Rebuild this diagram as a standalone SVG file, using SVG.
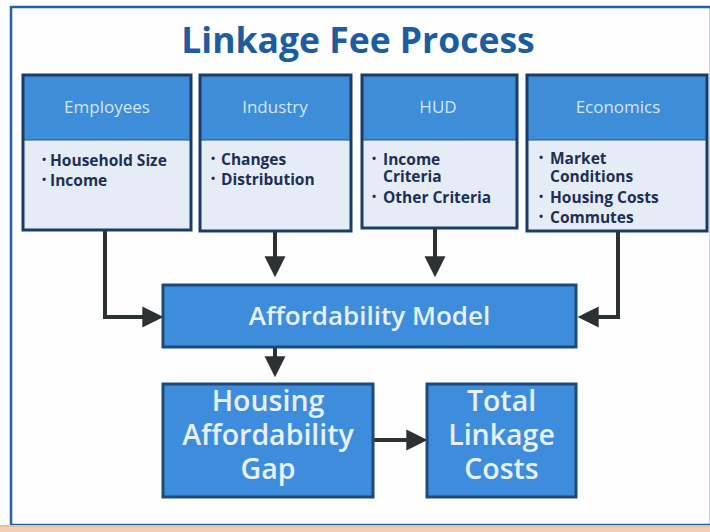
<svg xmlns="http://www.w3.org/2000/svg" width="710" height="532" viewBox="0 0 710 532">
  <style>
    .frame { fill: #fefefe; stroke: #2362a9; stroke-width: 2.5; }
    .title { font-family: "Open Sans", "Liberation Sans", sans-serif; font-weight: 700; font-size: 35.5px; fill: #1d5c9e; text-anchor: middle; }
    .hdr { fill: #3e8dd8; }
    .bodybox { fill: #e5ecf5; }
    .edge { fill: none; stroke: #1b3c66; stroke-width: 3; }
    .sep { stroke: #2a5b8f; stroke-width: 1; }
    .htext { font-family: "Open Sans", "Liberation Sans", sans-serif; font-size: 17px; fill: #d3e6f8; text-anchor: middle; }
    .item { font-family: "Open Sans", "Liberation Sans", sans-serif; font-weight: 700; font-size: 15.5px; fill: #1c2f55; }
    .bul { font-family: "Open Sans", "Liberation Sans", sans-serif; font-weight: 700; font-size: 11px; fill: #1c2f55; }
    .stage { fill: #3d8ddc; stroke: #1c4a7c; stroke-width: 3; }
    .big { font-family: "Open Sans", "Liberation Sans", sans-serif; font-weight: 600; fill: #e8f1fb; text-anchor: middle; }
    .conn { fill: none; stroke: #2c3234; stroke-width: 4; marker-end: url(#head); }
  </style>
  <defs>
    <marker id="head" viewBox="0 0 20 20" refX="14" refY="10" markerWidth="21" markerHeight="22" markerUnits="userSpaceOnUse" orient="auto">
      <path d="M0,0 L20,10 L0,20 Z" fill="#2c3234"/>
    </marker>
  </defs>

  <!-- page frame and bottom band -->
  <rect class="frame" x="11" y="7" width="700" height="518"/>
  <rect x="0" y="525" width="710" height="2" fill="#e6c58c"/>
  <rect x="0" y="527" width="710" height="5" fill="#f4cdb9"/>

  <text class="title" x="358" y="53">Linkage Fee Process</text>

  <!-- connectors -->
  <g id="connectors">
    <path class="conn" d="M105,230 V317 H157"/>
    <path class="conn" d="M275,231 V271"/>
    <path class="conn" d="M435,229 V271"/>
    <path class="conn" d="M618,231 V317 H584"/>
    <path class="conn" d="M275,347 V371"/>
    <path class="conn" d="M373,440 H421"/>
  </g>

  <!-- input boxes -->
  <g id="employees">
    <rect class="hdr" x="23" y="75" width="168" height="65"/>
    <rect class="bodybox" x="23" y="140" width="168" height="90"/>
    <line class="sep" x1="23" y1="140" x2="191" y2="140"/>
    <rect class="edge" x="23" y="75" width="168" height="155"/>
    <text class="htext" x="107" y="113">Employees</text>
    <text class="bul" x="42" y="163">•</text>
    <text class="item" x="50" y="166">Household Size</text>
    <text class="bul" x="42" y="183">•</text>
    <text class="item" x="50" y="186">Income</text>
  </g>

  <g id="industry">
    <rect class="hdr" x="200" y="75" width="151" height="65"/>
    <rect class="bodybox" x="200" y="140" width="151" height="91"/>
    <line class="sep" x1="200" y1="140" x2="351" y2="140"/>
    <rect class="edge" x="200" y="75" width="151" height="156"/>
    <text class="htext" x="275" y="113">Industry</text>
    <text class="bul" x="211" y="162">•</text>
    <text class="item" x="221" y="165">Changes</text>
    <text class="bul" x="211" y="182">•</text>
    <text class="item" x="221" y="185">Distribution</text>
  </g>

  <g id="hud">
    <rect class="hdr" x="362" y="75" width="155" height="65"/>
    <rect class="bodybox" x="362" y="140" width="155" height="88"/>
    <line class="sep" x1="362" y1="140" x2="517" y2="140"/>
    <rect class="edge" x="362" y="75" width="155" height="153"/>
    <text class="htext" x="438" y="113">HUD</text>
    <text class="bul" x="372" y="162">•</text>
    <text class="item" x="383" y="165">Income<tspan x="383" dy="17">Criteria</tspan></text>
    <text class="bul" x="372" y="200">•</text>
    <text class="item" x="383" y="203">Other Criteria</text>
  </g>

  <g id="economics">
    <rect class="hdr" x="527" y="75" width="180" height="65"/>
    <rect class="bodybox" x="527" y="140" width="180" height="91"/>
    <line class="sep" x1="527" y1="140" x2="707" y2="140"/>
    <rect class="edge" x="527" y="75" width="180" height="156"/>
    <text class="htext" x="618" y="113">Economics</text>
    <text class="bul" x="539" y="161">•</text>
    <text class="item" x="550" y="164">Market<tspan x="550" dy="18">Conditions</tspan></text>
    <text class="bul" x="539" y="200">•</text>
    <text class="item" x="550" y="203">Housing Costs</text>
    <text class="bul" x="539" y="220">•</text>
    <text class="item" x="550" y="223">Commutes</text>
  </g>

  <!-- process stages -->
  <g id="affordability-model">
    <rect class="stage" x="163" y="285" width="413" height="62"/>
    <text class="big" x="369.5" y="325" font-size="26">Affordability Model</text>
  </g>

  <g id="affordability-gap">
    <rect class="stage" x="163" y="384" width="210" height="113"/>
    <text class="big" x="268" y="411" font-size="28.5">Housing<tspan x="268" dy="34">Affordability</tspan><tspan x="268" dy="34">Gap</tspan></text>
  </g>

  <g id="linkage-costs">
    <rect class="stage" x="427" y="384" width="149" height="113"/>
    <text class="big" x="501.5" y="411" font-size="28.5">Total<tspan x="501.5" dy="34">Linkage</tspan><tspan x="501.5" dy="34">Costs</tspan></text>
  </g>
</svg>
